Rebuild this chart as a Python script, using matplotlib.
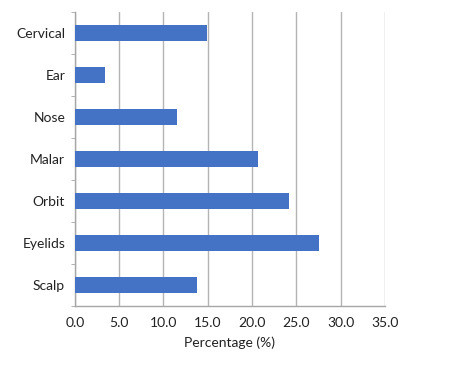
import matplotlib.pyplot as plt
import numpy as np

sites = ['Cervical', 'Ear', 'Nose', 'Malar', 'Orbit', 'Eyelids', 'Scalp']
percent = [14.9, 3.4, 11.5, 20.7, 24.2, 27.6, 13.8]
xticks = [0.0, 5.0, 10.0, 15.0, 20.0, 25.0, 30.0, 35.0]

plt.rcParams['font.family'] = ['Lato', 'DejaVu Sans']

fig = plt.figure(figsize=(4.65, 3.69), dpi=100)
ax = fig.add_axes([0.161, 0.171, 0.667, 0.796])

y = np.arange(len(sites))
ax.barh(y, percent, height=0.38, color='#4472C4', zorder=3)

ax.set_xlim(0, 35)
ax.set_ylim(len(sites) - 0.5, -0.5)
ax.set_xticks(xticks)
ax.set_xticklabels(['%.1f' % t for t in xticks], fontsize=10, color='#222222')
ax.set_yticks(y)
ax.set_yticklabels(sites, fontsize=10, color='#222222')
ax.set_yticks(np.arange(len(sites) + 1) - 0.5, minor=True)

ax.tick_params(axis='y', which='major', length=0, pad=7)
ax.tick_params(axis='y', which='minor', length=3, color='#a6a6a6')
ax.tick_params(axis='x', length=0, pad=8)

ax.grid(axis='x', color='#b4b4b4', linewidth=1.0, zorder=0)
for s in ['top', 'right']:
    ax.spines[s].set_visible(False)
for s in ['left', 'bottom']:
    ax.spines[s].set_color('#a6a6a6')
    ax.spines[s].set_linewidth(1.0)

ax.set_xlabel('Percentage (%)', fontsize=10, color='#222222', labelpad=5)

fig.savefig('out.png', dpi=100)
